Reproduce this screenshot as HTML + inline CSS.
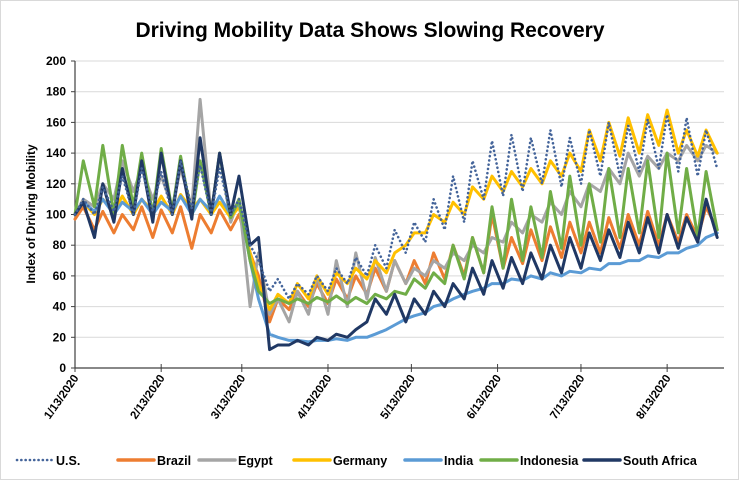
<!DOCTYPE html>
<html><head><meta charset="utf-8">
<style>
body{margin:0;background:#fff;font-family:"Liberation Sans",Arial,sans-serif;}
#wrap{position:relative;width:737px;height:478px;border:1px solid #d9d9d9;overflow:hidden;}
svg text{font-family:"Liberation Sans",Arial,sans-serif;}
</style></head>
<body>
<div id="wrap">
<svg id="chart" width="737" height="478">
<text x="369" y="36" text-anchor="middle" font-size="21" font-weight="bold" fill="#000">Driving Mobility Data Shows Slowing Recovery</text>
<text transform="translate(34,213) rotate(-90)" text-anchor="middle" font-size="12" font-weight="bold" fill="#000">Index of Driving Mobility</text>
<g id="grid"></g><g id="axes"></g><g id="series"></g><g id="legend"></g>
</svg>
</div>
<script>
const days=[0,3,7,10,14,17,21,24,28,31,35,38,42,45,49,52,56,59,63,66,70,73,77,80,84,87,91,94,98,101,105,108,112,115,119,122,126,129,133,136,140,143,147,150,154,157,161,164,168,171,175,178,182,185,189,192,196,199,203,206,210,213,217,220,224,227,231];
const xTickLabels=["1/13/2020","2/13/2020","3/13/2020","4/13/2020","5/13/2020","6/13/2020","7/13/2020","8/13/2020"];
const xTickDays=[0,31,60,91,121,152,182,213];
const yTicks=[0,20,40,60,80,100,120,140,160,180,200];
const seriesNames=["U.S.","Brazil","Egypt","Germany","India","Indonesia","South Africa"];
const usVals=[100,110,100,118,102,125,100,130,102,128,100,135,104,132,100,130,100,110,80,70,50,58,45,55,48,60,50,65,55,72,60,80,65,90,75,95,82,110,90,125,95,135,110,148,112,152,115,150,120,155,118,150,120,155,125,160,125,158,128,162,130,165,128,163,125,155,130];
const brazilVals=[97,105,90,102,88,100,90,105,85,103,88,105,78,100,88,103,90,100,75,60,30,45,38,50,40,55,42,58,45,60,48,65,50,70,55,70,55,75,58,80,60,85,62,100,65,85,68,90,70,92,72,95,75,95,75,98,78,100,80,102,80,100,82,100,85,105,90];
const egyptVals=[100,110,105,120,110,135,115,130,110,125,105,130,105,175,100,140,95,110,40,75,35,45,30,50,35,60,35,70,40,75,45,72,50,70,55,65,60,70,65,75,70,80,75,85,82,95,88,100,95,108,100,115,105,120,115,130,120,140,125,138,130,140,135,145,135,145,140];
const germanyVals=[100,108,100,110,102,112,100,110,102,112,100,113,103,110,100,108,98,105,75,55,38,48,42,55,45,60,48,62,55,65,58,70,62,75,80,88,88,100,95,108,100,118,110,125,115,128,118,130,120,135,125,140,128,155,135,160,138,163,140,165,145,168,140,155,138,155,140];
const indiaVals=[100,108,102,110,100,108,102,110,100,108,102,112,100,110,102,112,100,108,70,45,22,20,18,18,17,18,18,19,18,20,20,22,25,28,32,34,36,40,42,45,48,50,52,55,55,58,57,60,58,62,60,63,62,65,64,68,68,70,70,73,72,75,75,78,80,85,88];
const indonesiaVals=[100,135,105,145,100,145,105,140,100,143,102,138,98,135,100,140,98,110,70,50,42,45,42,45,42,46,43,47,42,46,42,48,45,50,48,58,52,62,55,80,58,85,62,105,65,110,70,105,72,115,78,125,80,120,82,130,85,130,88,135,85,140,88,130,85,128,90];
const southAfricaVals=[100,108,85,120,95,130,100,135,95,140,100,135,97,150,100,140,100,125,80,85,12,15,15,18,15,20,18,22,20,25,30,45,35,48,30,45,35,50,40,55,45,65,48,70,52,72,55,75,58,80,62,85,65,88,70,90,72,95,75,98,75,100,78,98,82,110,85];
const allVals=[usVals,brazilVals,egyptVals,germanyVals,indiaVals,indonesiaVals,southAfricaVals];
const colors=["#44649a","#ed7d31","#a5a5a5","#ffc000","#5b9bd5","#70ad47","#203864"];

const NS="http://www.w3.org/2000/svg";
const X0=74,PXD=2.78,Y0=367,PXU=307/200;
function xs(d){return X0+d*PXD;}
function ys(v){return Y0-v*PXU;}
function mk(tag,attrs,parent){const e=document.createElementNS(NS,tag);for(const k in attrs)e.setAttribute(k,attrs[k]);parent.appendChild(e);return e;}
const grid=document.getElementById('grid'),axes=document.getElementById('axes'),ser=document.getElementById('series'),leg=document.getElementById('legend');
yTicks.forEach(t=>{
  if(t>0){const g=mk('line',{x1:X0,x2:723,y1:ys(t),y2:ys(t),stroke:'#d9d9d9','stroke-width':1},grid);
  
  }
  const tk=mk('line',{x1:X0-4,x2:X0,y1:ys(t),y2:ys(t),stroke:'#404040','stroke-width':1},axes);
  
  
  const tx=mk('text',{x:X0-9,y:ys(t)+4,'text-anchor':'end','font-size':12,'font-weight':'bold',fill:'#000'},axes);
  tx.textContent=t;
  
  
});
const ya=mk('line',{x1:X0,x2:X0,y1:ys(200),y2:Y0,stroke:'#404040','stroke-width':1.2},axes);


const xa=mk('line',{x1:X0,x2:723,y1:Y0,y2:Y0,stroke:'#404040','stroke-width':1.2},axes);


xTickDays.forEach((d,i)=>{
  const x=xs(d);
  const tk=mk('line',{x1:x,x2:x,y1:Y0-4,y2:Y0+4,stroke:'#404040','stroke-width':1},axes);
  
  
  const tx=mk('text',{x:0,y:0,'text-anchor':'end','font-size':11.5,'font-weight':'bold',fill:'#000',transform:`translate(${x+4},${Y0+10}) rotate(-55)`},axes);
  tx.textContent=xTickLabels[i];
  
  
});
allVals.forEach((vals,si)=>{
  const pts=vals.map((v,i)=>xs(days[i]).toFixed(1)+','+ys(v).toFixed(1)).join(' ');
  const attrs={points:pts,fill:'none',stroke:colors[si],'stroke-width':si==0?2.6:3,'stroke-linejoin':'round','stroke-linecap':'round'};
  if(si==0){attrs['stroke-dasharray']='0.1 4.2';}
  const p=mk('polyline',attrs,ser);
  
  
});
// keep US dotted on top
ser.appendChild(ser.firstChild);
const legX=[16,117,198,293,404,480,583],legW=[36,36,36,36,36,36,36];
seriesNames.forEach((n,i)=>{
  const g=mk('g',{},leg);
  
  
  const a={x1:legX[i],x2:legX[i]+legW[i],y1:459,y2:459,stroke:colors[i],'stroke-width':i==0?2.6:3.5,'stroke-linecap':'round'};
  if(i==0)a['stroke-dasharray']='0.1 4.2';
  mk('line',a,g);
  const t=mk('text',{x:legX[i]+legW[i]+3,y:464,'font-size':12.5,'font-weight':'bold',fill:'#000'},g);
  t.textContent=n;
});
</script>
</body></html>
